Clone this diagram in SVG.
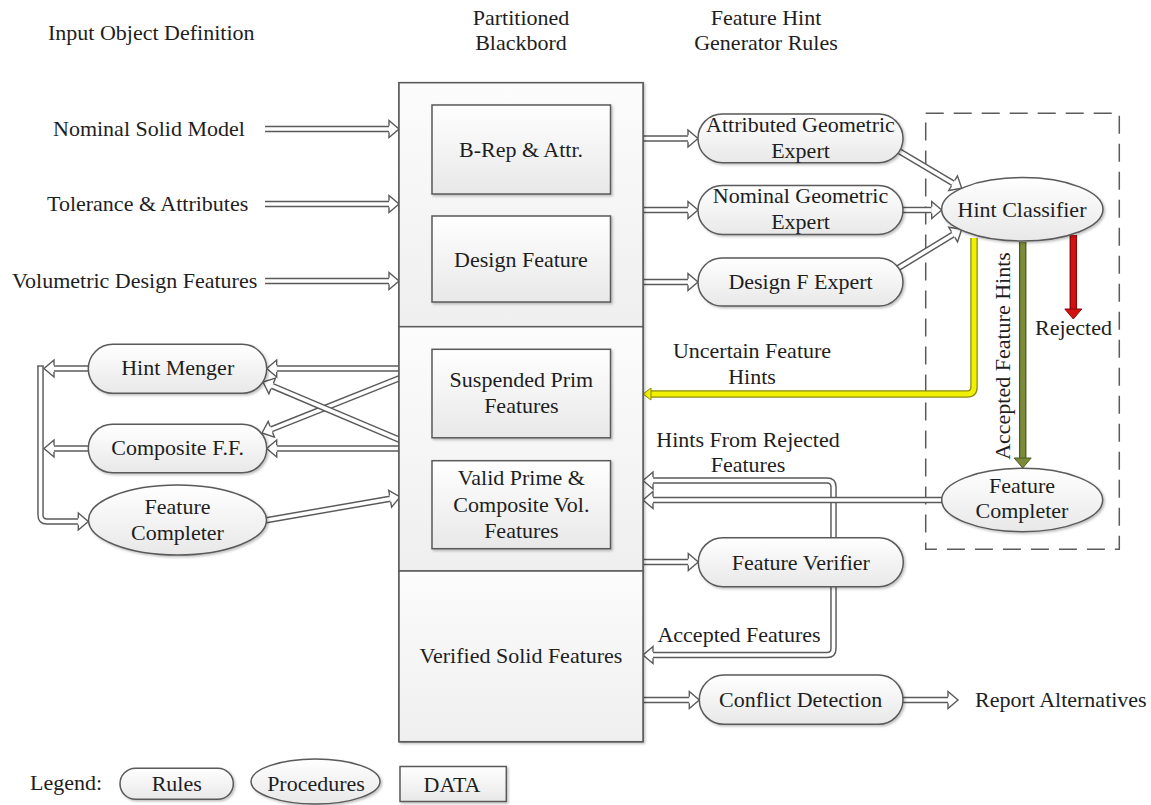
<svg xmlns="http://www.w3.org/2000/svg" width="1151" height="805" viewBox="0 0 1151 805">
<defs>
  <linearGradient id="gb" x1="0" y1="0" x2="0" y2="1">
    <stop offset="0" stop-color="#ffffff"/>
    <stop offset="1" stop-color="#e8e8e8"/>
  </linearGradient>
  <linearGradient id="gs" x1="0" y1="0" x2="0" y2="1">
    <stop offset="0" stop-color="#fcfcfc"/>
    <stop offset="1" stop-color="#efefef"/>
  </linearGradient>
  <filter id="sh" x="-10%" y="-10%" width="125%" height="125%">
    <feDropShadow dx="1.5" dy="1.5" stdDeviation="1" flood-color="#000" flood-opacity="0.25"/>
  </filter>
  <marker id="h" markerUnits="userSpaceOnUse" orient="auto" viewBox="-2 -10 14 20" markerWidth="14" markerHeight="20" refX="0" refY="0" overflow="visible">
    <path d="M0,-8.5 L10,0 L0,8.5 Z" fill="#fff"/>
    <path d="M0,-3.25 L0,-8.5 L10,0 L0,8.5 L0,3.25" fill="none" stroke="#5a5a5a" stroke-width="1.4"/>
  </marker>
  <marker id="hy" markerUnits="userSpaceOnUse" orient="auto" viewBox="-2 -10 14 20" markerWidth="14" markerHeight="20" refX="0" refY="0" overflow="visible">
    <path d="M0,-6 L8,0 L0,6 Z" fill="#f0f000" stroke="#8a8a10" stroke-width="1"/>
  </marker>
  <marker id="hg" markerUnits="userSpaceOnUse" orient="auto" viewBox="-2 -10 14 20" markerWidth="14" markerHeight="20" refX="0" refY="0" overflow="visible">
    <path d="M0,-8.5 L10,0 L0,8.5 Z" fill="#7b8b3a" stroke="#4f5a20" stroke-width="1"/>
  </marker>
  <marker id="hr" markerUnits="userSpaceOnUse" orient="auto" viewBox="-2 -10 14 20" markerWidth="14" markerHeight="20" refX="0" refY="0" overflow="visible">
    <path d="M0,-8.5 L10,0 L0,8.5 Z" fill="#d41111" stroke="#8a0a0a" stroke-width="1"/>
  </marker>
  <style>
    text { font-family: "Liberation Serif", "Times New Roman", serif; font-size: 22px; fill: #1e1e1e; }
    .c { text-anchor: middle; }
    .box { fill: url(#gb); stroke: #5a5a5a; stroke-width: 1.5; filter: url(#sh); }
    .sec { fill: url(#gs); stroke: #5a5a5a; stroke-width: 1.5; }
    .o { fill: none; stroke: #5a5a5a; stroke-width: 6.5; }
    .i { fill: none; stroke: #ffffff; stroke-width: 3.6; marker-end: url(#h); }
    .yo { fill: none; stroke: #8a8a10; stroke-width: 7.5; }
    .yi { fill: none; stroke: #f0f000; stroke-width: 5; marker-end: url(#hy); }
    .go { fill: none; stroke: #4f5a20; stroke-width: 7.5; }
    .gi { fill: none; stroke: #7b8b3a; stroke-width: 5; marker-end: url(#hg); }
    .ro { fill: none; stroke: #8a0a0a; stroke-width: 7.5; }
    .ri { fill: none; stroke: #d41111; stroke-width: 5; marker-end: url(#hr); }
    .dash { fill: none; stroke: #5a5a5a; stroke-width: 1.5; stroke-dasharray: 18 10; }
  </style>
</defs>
<rect width="1151" height="805" fill="#ffffff"/>

<!-- headers -->
<g id="headers">
  <text x="48" y="40">Input Object Definition</text>
  <text class="c" x="521" y="25">Partitioned</text>
  <text class="c" x="521" y="50">Blackbord</text>
  <text class="c" x="766" y="25">Feature Hint</text>
  <text class="c" x="766" y="50">Generator Rules</text>
</g>

<!-- input labels -->
<g id="inputs">
  <text x="53" y="136">Nominal Solid Model</text>
  <text x="47" y="211">Tolerance &amp; Attributes</text>
  <text x="12" y="288">Volumetric Design Features</text>
</g>

<!-- dashed group boundary -->
<g id="classifier-group">
  <rect class="dash" x="925.7" y="113.3" width="193.6" height="436"/>
</g>

<!-- connectors -->
<g id="connectors">
  <path class="o" d="M265,129 H389"/><path class="i" d="M265,129 H389"/>
  <path class="o" d="M265,204 H389"/><path class="i" d="M265,204 H389"/>
  <path class="o" d="M265,281 H389"/><path class="i" d="M265,281 H389"/>

  <path class="o" d="M643,138.5 H688"/><path class="i" d="M643,138.5 H688"/>
  <path class="o" d="M643,210 H688"/><path class="i" d="M643,210 H688"/>
  <path class="o" d="M643,282 H688"/><path class="i" d="M643,282 H688"/>

  <path class="o" d="M893,147.5 L953.1,183.2"/><path class="i" d="M893,147.5 L953.1,183.2"/>
  <path class="o" d="M900,210 H931.7"/><path class="i" d="M900,210 H931.7"/>
  <path class="o" d="M895,270 L953.15,234.5"/><path class="i" d="M895,270 L953.15,234.5"/>

  <path class="o" d="M400,368.5 H276.7"/><path class="i" d="M400,368.5 H276.7"/>
  <path class="o" d="M400,448.5 H276.7"/><path class="i" d="M400,448.5 H276.7"/>
  <path class="o" d="M400,378 L271.3,429.3"/><path class="i" d="M400,378 L271.3,429.3"/>
  <path class="o" d="M400,440 L272.2,385.9"/><path class="i" d="M400,440 L272.2,385.9"/>
  <path class="o" d="M262,521 L390.15,498.7"/><path class="i" d="M262,521 L390.15,498.7"/>

  <path class="o" d="M88.3,368.5 H54"/><path class="i" d="M88.3,368.5 H54"/>
  <path class="o" d="M88.3,448.5 H54"/><path class="i" d="M88.3,448.5 H54"/>
  <path class="o" d="M40.5,366 V515 Q40.5,521.5 47,521.5 H78.3"/><path class="i" d="M40.5,366 V515 Q40.5,521.5 47,521.5 H78.3"/>
  <line x1="37.2" y1="366" x2="43.8" y2="366" stroke="#5a5a5a" stroke-width="1.4"/>

  <path class="o" d="M643,562 H688.3"/><path class="i" d="M643,562 H688.3"/>
  <path class="o" d="M833.5,562 V487 Q833.5,480.5 827,480.5 H653"/><path class="i" d="M833.5,562 V487 Q833.5,480.5 827,480.5 H653"/>
  <path class="o" d="M833.5,562 V648.5 Q833.5,655 827,655 H653"/><path class="i" d="M833.5,562 V648.5 Q833.5,655 827,655 H653"/>
  <path class="o" d="M945,500 H653"/><path class="i" d="M945,500 H653"/>

  <path class="o" d="M643,700 H689.3"/><path class="i" d="M643,700 H689.3"/>
  <path class="o" d="M903,700 H948"/><path class="i" d="M903,700 H948"/>

  <path class="yo" d="M974,238 V387 Q974,394 967,394 H651"/><path class="yi" d="M974,238 V387 Q974,394 967,394 H651"/>
  <path class="go" d="M1022.7,242 V458"/><path class="gi" d="M1022.7,242 V458"/>
  <path class="ro" d="M1073.3,235 V309"/><path class="ri" d="M1073.3,235 V309"/>
</g>

<!-- connector labels -->
<g id="connector-labels">
  <text class="c" x="752" y="358">Uncertain Feature</text>
  <text class="c" x="752" y="384">Hints</text>
  <text class="c" x="748" y="447">Hints From Rejected</text>
  <text class="c" x="748" y="472">Features</text>
  <text class="c" x="627.5" y="405">(b)</text>
  <text class="c" x="627.5" y="512">(a)</text>
  <text class="c" x="739" y="642">Accepted Features</text>
  <text class="c" x="1073.5" y="335">Rejected</text>
  <text class="c" transform="translate(1010,356) rotate(-90)">Accepted Feature Hints</text>
  <text x="975" y="707">Report Alternatives</text>
</g>

<!-- blackboard -->
<g id="blackboard">
  <rect class="sec" x="399" y="82.7" width="244" height="659" filter="url(#sh)"/>
  <rect class="sec" x="399" y="82.7" width="244" height="244"/>
  <rect class="sec" x="399" y="326.7" width="244" height="244.3"/>
  <rect class="sec" x="399" y="571" width="244" height="170.7"/>
  <text class="c" x="521" y="663">Verified Solid Features</text>
</g>
<g id="brep">
  <rect class="box" x="432" y="105" width="178.5" height="89"/>
  <text class="c" x="521" y="157">B-Rep &amp; Attr.</text>
</g>
<g id="design-feature">
  <rect class="box" x="432" y="216" width="178.5" height="86"/>
  <text class="c" x="521" y="267">Design Feature</text>
</g>
<g id="suspended">
  <rect class="box" x="432" y="349.3" width="178.5" height="88.5"/>
  <text class="c" x="521.4" y="387">Suspended Prim</text>
  <text class="c" x="521.4" y="413">Features</text>
</g>
<g id="valid">
  <rect class="box" x="432" y="460.7" width="178.5" height="88"/>
  <text class="c" x="521.4" y="485">Valid Prime &amp;</text>
  <text class="c" x="521.4" y="511.5">Composite Vol.</text>
  <text class="c" x="521.4" y="537.5">Features</text>
</g>

<!-- rules -->
<g id="attributed-expert">
  <rect class="box" x="698" y="114" width="205" height="48.7" rx="24.3"/>
  <text class="c" x="800.5" y="132">Attributed Geometric</text>
  <text class="c" x="800.5" y="158">Expert</text>
</g>
<g id="nominal-expert">
  <rect class="box" x="698" y="185.5" width="205" height="49" rx="24.5"/>
  <text class="c" x="800.5" y="203">Nominal Geometric</text>
  <text class="c" x="800.5" y="228.5">Expert</text>
</g>
<g id="designf-expert">
  <rect class="box" x="698" y="258" width="205" height="48" rx="24"/>
  <text class="c" x="800.5" y="289">Design F Expert</text>
</g>
<g id="hint-menger">
  <rect class="box" x="88.3" y="344.3" width="178.4" height="49" rx="24.5"/>
  <text class="c" x="177.7" y="375">Hint Menger</text>
</g>
<g id="composite-ff">
  <rect class="box" x="88.3" y="424.3" width="178.4" height="48.4" rx="24.2"/>
  <text class="c" x="177.7" y="455">Composite F.F.</text>
</g>
<g id="feature-verifier">
  <rect class="box" x="698.3" y="537.7" width="205" height="49" rx="24.5"/>
  <text class="c" x="800.8" y="569.5">Feature Verifier</text>
</g>
<g id="conflict-detection">
  <rect class="box" x="699.3" y="675" width="203.7" height="49.3" rx="24.6"/>
  <text class="c" x="800.6" y="707">Conflict Detection</text>
</g>

<!-- procedures -->
<g id="hint-classifier">
  <ellipse class="box" cx="1022.3" cy="209.3" rx="80.7" ry="31.7"/>
  <text class="c" x="1022" y="216.7">Hint Classifier</text>
</g>
<g id="feature-completer-right">
  <ellipse class="box" cx="1022.2" cy="500" rx="80.5" ry="31.7"/>
  <text class="c" x="1022" y="493.3">Feature</text>
  <text class="c" x="1022" y="518.3">Completer</text>
</g>
<g id="feature-completer-left">
  <ellipse class="box" cx="177.5" cy="520" rx="89" ry="35"/>
  <text class="c" x="177.5" y="514.3">Feature</text>
  <text class="c" x="177.5" y="540">Completer</text>
</g>

<!-- legend -->
<g id="legend">
  <text x="30" y="790">Legend:</text>
  <rect class="box" x="120" y="768.3" width="113.3" height="31" rx="15.5"/>
  <text class="c" x="176.7" y="791">Rules</text>
  <ellipse class="box" cx="315.5" cy="781.5" rx="64.5" ry="22.5"/>
  <text class="c" x="316" y="791">Procedures</text>
  <rect class="box" x="400" y="766.5" width="106.3" height="35"/>
  <text class="c" x="452" y="791.5">DATA</text>
</g>
</svg>
